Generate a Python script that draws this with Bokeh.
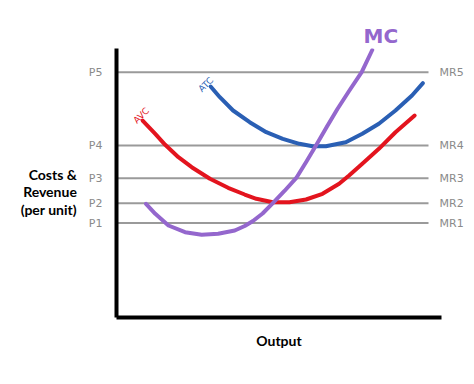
from bokeh.plotting import figure
from bokeh.models import FixedTicker, Label, LinearAxis, Range1d
from bokeh.embed import file_html
from bokeh.resources import INLINE

# Price levels (P1..P5 / MR1..MR5)
price_names = ["P1", "P2", "P3", "P4", "P5"]
mr_names = ["MR1", "MR2", "MR3", "MR4", "MR5"]
price_levels = [35.1, 42.5, 51.8, 63.9, 91.2]
line_end = 96.0

# Cost curves (output, cost per unit)
avc_x = [8.04, 11.93, 14.98, 19.05, 23.15, 28.75, 34.34, 39.45, 43.03, 48.10, 53.21,
         58.32, 63.39, 68.50, 71.56, 75.63, 80.73, 85.84, 91.74]
avc_y = [73.23, 68.29, 64.20, 59.59, 55.87, 51.56, 48.22, 45.72, 44.13, 42.86, 42.86,
         43.87, 45.99, 49.70, 52.79, 57.14, 62.71, 68.88, 75.09]

atc_x = [28.96, 31.80, 35.87, 40.98, 46.09, 51.16, 56.27, 60.34, 64.43, 70.55, 75.63,
         80.73, 85.84, 90.92, 94.28]
atc_y = [85.87, 81.90, 76.95, 72.60, 68.88, 66.43, 64.57, 63.68, 63.68, 65.17, 68.29,
         72.01, 76.95, 82.53, 87.10]

mc_x = [9.08, 11.93, 15.99, 21.10, 26.21, 31.28, 36.39, 39.45, 41.99, 44.95, 48.10,
        51.68, 55.26, 58.26, 61.38, 64.68, 67.98, 71.56, 75.44, 78.69]
mc_y = [42.27, 38.55, 34.20, 31.71, 30.74, 31.12, 32.34, 34.01, 35.87, 38.66, 42.49,
        47.03, 51.78, 57.62, 63.94, 70.82, 77.51, 84.20, 91.19, 99.44]

RED = "#e3141e"
BLUE = "#2a5fb4"
PURPLE = "#9467cd"
GRAY = "#9a9a9a"
LABEL_GRAY = "#8a8a8a"
HAND_FONT = "DejaVu Sans"

p = figure(width=466, height=376, output_backend="svg", toolbar_location=None,
           x_range=Range1d(0, 100), y_range=Range1d(0, 100),
           min_border_left=116, min_border_right=23, min_border_top=48, min_border_bottom=59)
p.outline_line_color = None
p.xgrid.visible = False
p.ygrid.visible = False

# "MC" curve label above the plot area
p.title.text = "MC"
p.title.text_color = PURPLE
p.title.text_font = HAND_FONT
p.title.text_font_size = "20px"
p.title.text_font_style = "bold"
p.title.align = "left"
p.title.offset = 247
p.title.standoff = 2

# left axis: price levels
ya = p.yaxis[0]
ya.ticker = FixedTicker(ticks=price_levels)
ya.major_label_overrides = {v: n for v, n in zip(price_levels, price_names)}
ya.major_tick_line_color = None
ya.minor_tick_line_color = None
ya.axis_line_width = 4
ya.axis_line_color = "black"
ya.major_label_text_color = LABEL_GRAY
ya.major_label_text_font = HAND_FONT
ya.major_label_text_font_size = "11px"
ya.major_label_standoff = 8
ya.axis_label = "\nCosts &\nRevenue\n(per unit)"
ya.axis_label_orientation = "horizontal"
ya.axis_label_text_font = "Lato"
ya.axis_label_text_font_size = "14px"
ya.axis_label_text_font_style = "bold"
ya.axis_label_text_color = "black"
ya.axis_label_text_line_height = 1.05
ya.axis_label_standoff = 9

# right axis: marginal revenue labels
ra = LinearAxis(ticker=FixedTicker(ticks=price_levels),
                major_label_overrides={v: n for v, n in zip(price_levels, mr_names)},
                axis_line_color=None, major_tick_line_color=None, minor_tick_line_color=None,
                major_label_text_color=LABEL_GRAY, major_label_text_font=HAND_FONT,
                major_label_text_font_size="11px", major_label_standoff=-8)
p.add_layout(ra, "right")

# bottom axis
xa = p.xaxis[0]
xa.ticker = FixedTicker(ticks=[])
xa.major_tick_line_color = None
xa.minor_tick_line_color = None
xa.axis_line_width = 4
xa.axis_line_color = "black"
xa.axis_label = "Output"
xa.axis_label_text_font = "Lato"
xa.axis_label_text_font_size = "14px"
xa.axis_label_text_font_style = "bold"
xa.axis_label_text_color = "black"
xa.axis_label_standoff = 14

# price / MR lines
p.segment(x0=[0] * len(price_levels), y0=price_levels,
          x1=[line_end] * len(price_levels), y1=price_levels,
          line_color=GRAY, line_width=2)

# curves
p.line(atc_x, atc_y, line_color=BLUE, line_width=4, line_cap="round", line_join="round")
p.line(avc_x, avc_y, line_color=RED, line_width=4, line_cap="round", line_join="round")
p.line(mc_x, mc_y, line_color=PURPLE, line_width=4, line_cap="round", line_join="round")

# curve labels
p.add_layout(Label(x=7.6, y=75.1, text="AVC", text_color=RED, text_font=HAND_FONT,
                   text_font_size="9px", angle=45, angle_units="deg",
                   text_align="center", text_baseline="middle"))
p.add_layout(Label(x=27.5, y=86.6, text="ATC", text_color=BLUE, text_font=HAND_FONT,
                   text_font_size="9px", angle=45, angle_units="deg",
                   text_align="center", text_baseline="middle"))

open("out.html", "w").write(file_html(p, INLINE))
